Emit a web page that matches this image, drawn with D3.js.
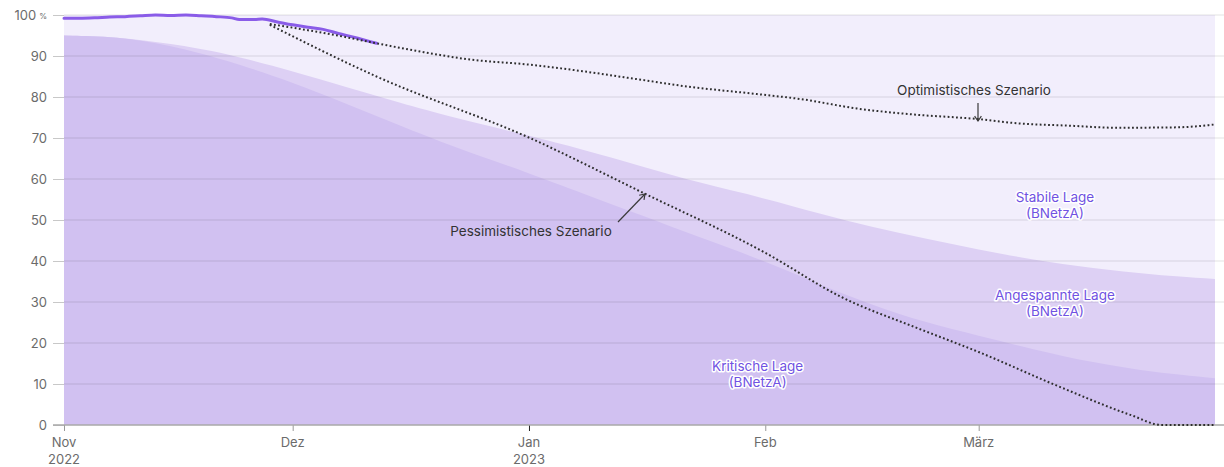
<!DOCTYPE html>
<html>
<head>
<meta charset="utf-8">
<script src="https://cdn.jsdelivr.net/npm/d3@7"></script>
<style>
  html, body { margin: 0; padding: 0; background: #fff; }
  svg { display: block; font-family: Inter, Roboto, "Noto Sans", sans-serif; }
</style>
</head>
<body>
<svg id="chart" width="1224" height="467"></svg>
<script>
// ---------- DATA ----------
const domainDates = ["2022-11-01", "2023-04-01"];

const kritischeDates = ["2022-11-01","2022-11-08","2022-11-15","2022-11-22","2022-12-01","2022-12-08","2022-12-15","2022-12-22","2023-01-01","2023-01-08","2023-01-16","2023-01-23","2023-02-01","2023-02-08","2023-02-15","2023-02-22","2023-03-01","2023-03-08","2023-03-16","2023-03-24","2023-04-01"];
const kritischeValues = [95.0,94.8,92.6,89.2,83.6,78.4,73.1,67.9,61.5,56.5,51.0,46.0,40.0,34.3,29.3,25.0,21.8,18.5,15.2,12.8,11.4];

const angespannteDates = kritischeDates;
const angespannteValues = [95.0,94.7,93.0,90.8,86.3,82.4,78.6,75.0,70.6,67.2,63.0,59.2,55.3,51.6,48.3,45.5,42.8,40.3,38.2,36.6,35.6];

const stabileDates = ["2022-11-01", "2023-04-01"];
const stabileValues = [100, 100];

const istDates = ["2022-11-01","2022-11-03","2022-11-05","2022-11-07","2022-11-09","2022-11-11","2022-11-13","2022-11-15","2022-11-17","2022-11-19","2022-11-21","2022-11-23","2022-11-24","2022-11-26","2022-11-27","2022-11-29","2022-12-01","2022-12-03","2022-12-05","2022-12-07","2022-12-09","2022-12-12"];
const istValues = [99.2,99.2,99.3,99.5,99.6,99.8,100,99.9,100,99.8,99.6,99.3,98.9,98.9,99.0,98.3,97.6,97.0,96.5,95.5,94.6,93.1];

const optimistDates = ["2022-11-28","2022-12-02","2022-12-06","2022-12-12","2022-12-18","2022-12-24","2023-01-01","2023-01-08","2023-01-15","2023-01-22","2023-01-30","2023-02-06","2023-02-13","2023-02-20","2023-03-01","2023-03-06","2023-03-13","2023-03-19","2023-03-27","2023-04-01"];
const optimistValues = [97.8,96.6,95.3,93.1,91.0,89.2,87.9,86.3,84.4,82.5,80.9,79.4,77.2,75.8,74.6,73.6,73.0,72.5,72.6,73.3];

const pessimistDates = ["2022-11-28","2022-12-12","2023-01-01","2023-01-16","2023-02-01","2023-02-11","2023-02-21","2023-03-01","2023-03-11","2023-03-21","2023-03-25","2023-04-01"];
const pessimistValues = [97.6,85.0,70.1,56.6,42.0,31.2,23.6,17.8,9.8,2.4,0,0];

const yTicks = [0,10,20,30,40,50,60,70,80,90,100];
const xTickDates = ["2022-11-01","2022-12-01","2023-01-01","2023-02-01","2023-03-01"];
const xTickLabels = [["Nov","2022"],["Dez"],["Jan","2023"],["Feb"],["März"]];

const zoneLabels = [
  {lines:["Stabile Lage","(BNetzA)"], date:"2023-03-11", value:54.4},
  {lines:["Angespannte Lage","(BNetzA)"], date:"2023-03-11", value:30.6},
  {lines:["Kritische Lage","(BNetzA)"], date:"2023-01-31", value:13.2}
];

// ---------- SETUP ----------
const parse = d3.timeParse("%Y-%m-%d");
const svg = d3.select("#chart");
const x = d3.scaleTime().domain(domainDates.map(parse)).range([64, 1215]);
const y = d3.scaleLinear().domain([0, 100]).range([425, 15]);

const zip = (ds, vs) => ds.map((d, i) => ({date: parse(d), v: vs[i]}));

const areaLin = d3.area().x(d => x(d.date)).y0(y(0)).y1(d => y(d.v));
const area = d3.area().x(d => x(d.date)).y0(y(0)).y1(d => y(d.v)).curve(d3.curveBasis);
const line = d3.line().x(d => x(d.date)).y(d => y(d.v)).curve(d3.curveMonotoneX);

// areas
svg.append("path").datum(zip(stabileDates, stabileValues)).attr("d", areaLin).attr("fill", "#f2eefc");
svg.append("path").datum(zip(angespannteDates, angespannteValues)).attr("d", area).attr("fill", "#ddd0f4");
svg.append("path").datum(zip(kritischeDates, kritischeValues)).attr("d", area).attr("fill", "#d1c1f1");

// gridlines
const grid = svg.append("g");
yTicks.filter(t => t > 0).forEach(t => {
  grid.append("line").attr("x1", 64).attr("x2", 1224).attr("y1", y(t)).attr("y2", y(t))
    .attr("stroke", "#000").attr("stroke-opacity", 0.11).attr("stroke-width", 1);
});

// y axis
const yAxis = d3.axisLeft(y).tickValues(yTicks).tickSize(11).tickPadding(6).tickFormat(d => d);
const yg = svg.append("g").attr("transform", "translate(64,0)").call(yAxis);
yg.select(".domain").remove();
yg.selectAll(".tick line").attr("stroke", "#c8c8c8");
yg.selectAll(".tick text").attr("fill", "#6b6b6b").attr("font-size", 13).attr("font-family", "Inter, sans-serif");
yg.selectAll(".tick").filter(d => d === 100).select("text")
  .attr("x", -17).append("tspan").attr("dx", 3).attr("font-size", 8).attr("dy", -1).text("%");

// x axis
const xAxis = d3.axisBottom(x).tickValues(xTickDates.map(parse)).tickSize(6).tickFormat("");
const xg = svg.append("g").attr("transform", "translate(0,425)").call(xAxis);
xg.select(".domain").remove();
xg.selectAll(".tick line").attr("stroke", (d, i) => i === 2 ? "#222" : "#999");
svg.append("line").attr("x1", 53).attr("x2", 1224).attr("y1", 425).attr("y2", 425).attr("stroke", "#a9a9a9").attr("stroke-width", 1.5);
xTickDates.forEach((d, i) => {
  const t = svg.append("text").attr("x", x(parse(d))).attr("y", 447).attr("text-anchor", "middle")
    .attr("fill", "#6b6b6b").attr("font-size", 13);
  xTickLabels[i].forEach((s, j) => t.append("tspan").attr("x", x(parse(d))).attr("dy", j === 0 ? 0 : 17).text(s));
});

// lines
svg.append("path").datum(zip(istDates, istValues)).attr("d", line).attr("fill", "none")
  .attr("stroke", "#8a5ce8").attr("stroke-width", 3).attr("stroke-linecap", "round");
[zip(optimistDates, optimistValues), zip(pessimistDates, pessimistValues)].forEach(data => {
  svg.append("path").datum(data).attr("d", line).attr("fill", "none")
    .attr("stroke", "#2e2e2e").attr("stroke-width", 2).attr("stroke-dasharray", "1.8,2.4");
});

// zone labels
zoneLabels.forEach(l => {
  const t = svg.append("text").attr("x", x(parse(l.date))).attr("y", y(l.value)).attr("text-anchor", "middle")
    .attr("fill", "#7052e2").attr("font-size", 13.5).attr("stroke", "#fff").attr("stroke-width", 3)
    .attr("stroke-linejoin", "round").attr("paint-order", "stroke");
  l.lines.forEach((s, j) => t.append("tspan").attr("x", x(parse(l.date))).attr("dy", j === 0 ? 0 : 16).text(s));
});

// annotations
function arrow(x1, y1, x2, y2) {
  const g = svg.append("g").attr("stroke", "#3a3a3a").attr("stroke-width", 1.2).attr("fill", "none");
  g.append("line").attr("x1", x1).attr("y1", y1).attr("x2", x2).attr("y2", y2);
  const a = Math.atan2(y2 - y1, x2 - x1), L = 6, s = 0.6;
  g.append("path").attr("d", `M${x2 - L*Math.cos(a - s)},${y2 - L*Math.sin(a - s)}L${x2},${y2}L${x2 - L*Math.cos(a + s)},${y2 - L*Math.sin(a + s)}`);
}
svg.append("text").attr("x", 974).attr("y", 95).attr("text-anchor", "middle").attr("fill", "#333").attr("font-size", 13.5).text("Optimistisches Szenario");
arrow(978, 103, 978, 121);
svg.append("text").attr("x", 531).attr("y", 236).attr("text-anchor", "middle").attr("fill", "#333").attr("font-size", 13.5).text("Pessimistisches Szenario");
arrow(618, 222, 645, 194);
</script>
</body>
</html>
